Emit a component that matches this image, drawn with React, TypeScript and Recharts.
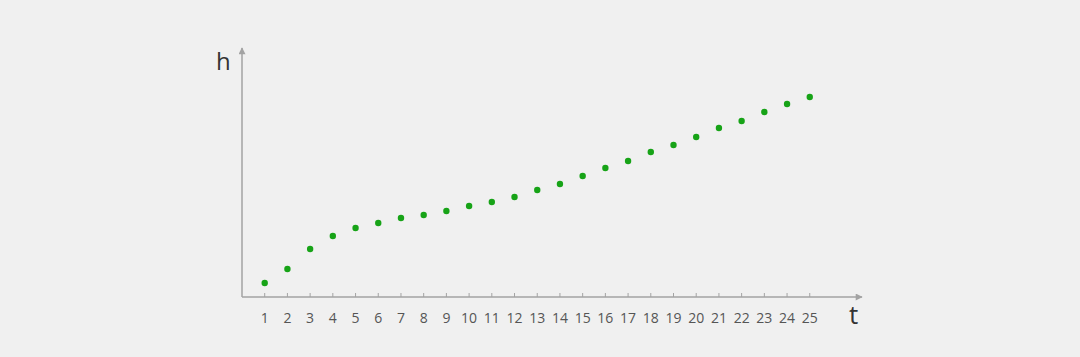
import { ScatterChart, Scatter, XAxis, YAxis } from "recharts";

// t = time step, h = height
const tValues = [1, 2, 3, 4, 5, 6, 7, 8, 9, 10, 11, 12, 13, 14, 15, 16, 17, 18, 19, 20, 21, 22, 23, 24, 25];
const hValues = [14, 28, 48, 61, 69, 74, 79, 82, 86, 91, 95, 100, 107, 113, 121, 129, 136, 145, 152, 160, 169, 176, 185, 193, 200];
const xTicks = tValues;

const data = tValues.map((t, i) => ({ t, h: hValues[i] }));

const axisColor = "#a3a3a3";
const dotColor = "#17a317";
const font = "'Open Sans', 'Noto Sans', sans-serif";

function XTick(props: any) {
  const { x, y, payload } = props;
  return (
    <g>
      <line x1={x} x2={x} y1={y - 4} y2={y} stroke={axisColor} strokeWidth={1} />
      <text x={x} y={y + 26} textAnchor="middle" fontSize={14} fill="#555" fontFamily={font}>
        {payload.value}
      </text>
    </g>
  );
}

function Dot(props: any) {
  const { cx, cy } = props;
  return <circle cx={cx} cy={cy} r={3.2} fill={dotColor} />;
}

function HLabel(props: any) {
  const { viewBox } = props;
  const vx = viewBox.x + viewBox.width;
  return (
    <text x={vx - 26} y={viewBox.y + 22} fontSize={24} fill="#333" fontFamily={font}>
      h
    </text>
  );
}

function TLabel(props: any) {
  const { viewBox } = props;
  return (
    <text x={viewBox.x + viewBox.width - 13} y={viewBox.y + 27} fontSize={26} fill="#333" fontFamily={font}>
      t
    </text>
  );
}

export default function App() {
  return (
    <div style={{ position: "fixed", left: 0, top: 0, width: 1080, height: 357, background: "#f0f0f0" }}>
      <svg width={0} height={0} style={{ position: "absolute" }}>
        <defs>
          <marker id="arrow" viewBox="0 0 10 10" refX={9} refY={5} markerWidth={9} markerHeight={7}
            markerUnits="userSpaceOnUse" orient="auto-start-reverse">
            <path d="M0,0 L10,5 L0,10 z" fill={axisColor} />
          </marker>
        </defs>
      </svg>
      <ScatterChart width={1080} height={357} margin={{ top: 48, right: 218, left: 202, bottom: 30 }}>
        <XAxis
          type="number"
          dataKey="t"
          domain={[0, 27.3]}
          ticks={xTicks}
          interval={0}
          height={30}
          tickSize={0}
          tickMargin={0}
          tickLine={false}
          tick={<XTick />}
          axisLine={{ stroke: axisColor, strokeWidth: 1.5, markerEnd: "url(#arrow)" }}
          label={<TLabel />}
        />
        <YAxis
          type="number"
          dataKey="h"
          domain={[0, 249]}
          width={40}
          tick={false}
          tickLine={false}
          axisLine={{ stroke: axisColor, strokeWidth: 1.5, markerStart: "url(#arrow)" }}
          label={<HLabel />}
        />
        <Scatter data={data} shape={<Dot />} isAnimationActive={false} />
      </ScatterChart>
    </div>
  );
}
